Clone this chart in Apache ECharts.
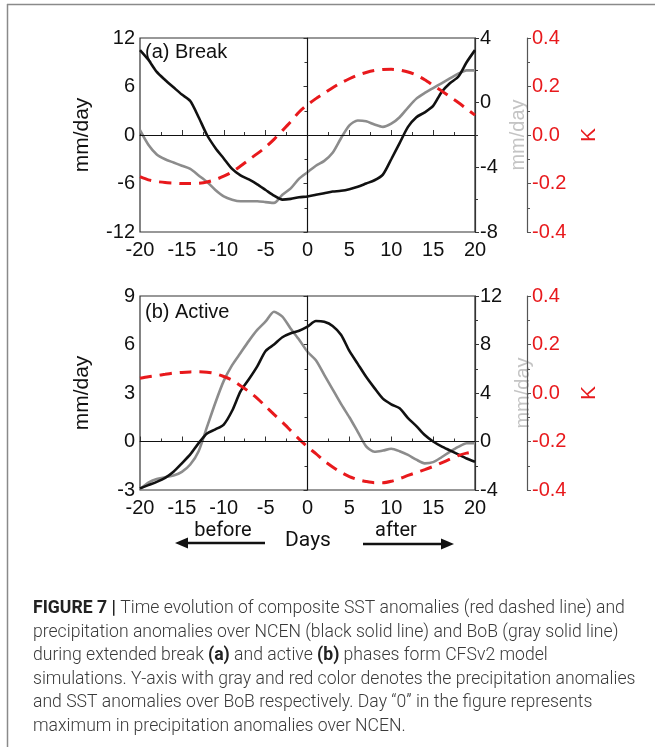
<!DOCTYPE html>
<html>
<head>
<meta charset="utf-8">
<script src="https://cdn.jsdelivr.net/npm/echarts@6/dist/echarts.min.js"></script>
<style>
  html, body { margin: 0; padding: 0; background: #fff; }
  #chart { width: 655px; height: 747px; }
</style>
</head>
<body>
<div id="chart"></div>
<script>
// Days relative to the NCEN precipitation maximum
const days = [-20,-19,-18,-17,-16,-15,-14,-13,-12,-11,-10,-9,-8,-7,-6,-5,-4,-3,-2,-1,0,1,2,3,4,5,6,7,8,9,10,11,12,13,14,15,16,17,18,19,20];
const xTicks = [-20, -15, -10, -5, 0, 5, 10, 15, 20];

// (a) Break phase
const breakNCEN = [10.5,9.3,7.8,6.8,5.9,5.0,4.2,2.2,0.0,-1.6,-2.9,-4.2,-5.0,-5.5,-6.1,-6.8,-7.5,-8.0,-7.9,-7.7,-7.6,-7.4,-7.2,-7.0,-6.9,-6.7,-6.4,-6.0,-5.6,-4.9,-3.0,-1.0,1.0,2.2,2.8,3.6,5.3,6.4,7.2,9.0,10.5];
const breakBoB = [-1.7,-2.6,-3.2,-3.5,-3.7,-3.9,-4.1,-4.5,-4.9,-5.4,-5.8,-6.0,-6.1,-6.1,-6.1,-6.15,-6.2,-5.7,-5.3,-4.7,-4.3,-3.9,-3.6,-3.1,-2.2,-1.4,-1.1,-1.15,-1.35,-1.5,-1.3,-0.9,-0.3,0.25,0.6,0.9,1.2,1.5,1.8,2.0,2.0];
const breakSST = [-0.172,-0.185,-0.192,-0.196,-0.198,-0.2,-0.2,-0.199,-0.194,-0.184,-0.17,-0.152,-0.128,-0.102,-0.077,-0.05,-0.018,0.018,0.055,0.095,0.125,0.15,0.172,0.195,0.215,0.232,0.247,0.258,0.266,0.27,0.271,0.268,0.26,0.247,0.228,0.205,0.182,0.158,0.134,0.108,0.082];

// (b) Active phase
const activeNCEN = [-2.9,-2.7,-2.5,-2.25,-1.87,-1.35,-0.8,-0.1,0.5,0.75,1.05,1.9,3.1,3.85,4.65,5.6,6.0,6.45,6.7,6.85,7.1,7.45,7.4,7.15,6.6,5.6,4.8,4.0,3.3,2.65,2.3,2.05,1.45,0.95,0.4,0.0,-0.3,-0.55,-0.8,-1.05,-1.25];
const activeBoB = [-3.95,-3.4,-3.1,-2.95,-2.8,-2.5,-1.9,-0.8,1.2,3.2,5.0,6.3,7.3,8.3,9.2,9.9,10.7,10.3,9.3,8.4,7.4,6.7,5.5,4.3,3.1,2.0,0.8,-0.4,-0.85,-0.75,-0.6,-0.8,-1.1,-1.5,-1.8,-1.7,-1.3,-0.85,-0.45,-0.15,-0.15];
const activeSST = [0.061,0.067,0.072,0.077,0.082,0.085,0.087,0.088,0.086,0.08,0.068,0.053,0.03,0.006,-0.022,-0.055,-0.088,-0.12,-0.155,-0.19,-0.222,-0.25,-0.28,-0.305,-0.327,-0.345,-0.357,-0.365,-0.37,-0.37,-0.364,-0.353,-0.34,-0.328,-0.316,-0.303,-0.288,-0.273,-0.258,-0.248,-0.242];

// Axis ranges
const breakLeft = { min: -12, max: 12, interval: 6 };
const breakGray = { min: -8, max: 4, interval: 4 };
const activeLeft = { min: -3, max: 9, interval: 3 };
const activeGray = { min: -4, max: 12, interval: 4 };
const sstRange = { min: -0.4, max: 0.4, interval: 0.2 };

const panelLabels = ['(a) Break', '(b) Active'];
const captionLines = [
  [{ t: 'FIGURE 7 | ', s: 'b' }, { t: 'Time evolution of composite SST anomalies (red dashed line) and', s: 'n' }],
  [{ t: 'precipitation anomalies over NCEN (black solid line) and BoB (gray solid line)', s: 'n' }],
  [{ t: 'during extended break ', s: 'n' }, { t: '(a)', s: 'b' }, { t: ' and active ', s: 'n' }, { t: '(b)', s: 'b' }, { t: ' phases form CFSv2 model', s: 'n' }],
  [{ t: 'simulations. Y-axis with gray and red color denotes the precipitation anomalies', s: 'n' }],
  [{ t: 'and SST anomalies over BoB respectively. Day \u201c0\u201d in the figure represents', s: 'n' }],
  [{ t: 'maximum in precipitation anomalies over NCEN.', s: 'n' }]
];

const RED = '#e8191c';
const GRAY = '#8c8c8c';
const AXIS = '#333';
const FONT = 'Arial, "Liberation Sans", sans-serif';
const TICK_SIZE = 20;

const pairs = (vals) => days.map((d, i) => [d, vals[i]]);

const grids = [
  { left: 140, right: 180, top: 38, height: 194 },
  { left: 140, right: 180, top: 296, height: 194 }
];

function xAxisFor(gi) {
  return {
    type: 'value', gridIndex: gi, min: -20, max: 20, interval: 5,
    axisLine: { lineStyle: { color: AXIS, width: 1.2 } },
    axisTick: { show: true, inside: true, length: 5, lineStyle: { color: AXIS } },
    minorTick: { show: true, splitNumber: 2, length: 3, lineStyle: { color: AXIS } },
    splitLine: { show: false },
    axisLabel: {
      color: '#111', fontFamily: FONT, fontSize: TICK_SIZE, margin: 8,
      customValues: xTicks
    }
  };
}

function leftAxis(gi, r) {
  return {
    type: 'value', gridIndex: gi, position: 'left', min: r.min, max: r.max, interval: r.interval,
    name: 'mm/day', nameLocation: 'middle', nameGap: 47, nameRotate: 90,
    nameTextStyle: { color: '#111', fontFamily: FONT, fontSize: 21 },
    axisLine: { show: true, lineStyle: { color: AXIS, width: 1.2 } },
    axisTick: { show: true, inside: false, length: 4, lineStyle: { color: AXIS } },
    minorTick: { show: true, splitNumber: 2, length: 3, lineStyle: { color: AXIS } },
    splitLine: { show: false },
    axisLabel: { color: '#111', fontFamily: FONT, fontSize: TICK_SIZE, margin: 5 }
  };
}

function grayAxis(gi, r) {
  return {
    type: 'value', gridIndex: gi, position: 'right', offset: 0, min: r.min, max: r.max, interval: r.interval,
    name: 'mm/day', nameLocation: 'middle', nameGap: 27, nameRotate: 90,
    nameTextStyle: { color: '#c4c4c4', fontFamily: FONT, fontSize: 20 },
    axisLine: { show: true, lineStyle: { color: AXIS, width: 1.2 } },
    axisTick: { show: true, inside: false, length: 4, lineStyle: { color: AXIS } },
    minorTick: { show: true, splitNumber: 2, length: 3, lineStyle: { color: AXIS } },
    splitLine: { show: false },
    axisLabel: { color: '#111', fontFamily: FONT, fontSize: TICK_SIZE, margin: 5 }
  };
}

function sstAxis(gi) {
  return {
    type: 'value', gridIndex: gi, position: 'right', offset: 52,
    min: sstRange.min, max: sstRange.max, interval: sstRange.interval,
    name: 'K', nameLocation: 'middle', nameGap: 52, nameRotate: 90,
    nameTextStyle: { color: RED, fontFamily: FONT, fontSize: 21 },
    axisLine: { show: true, lineStyle: { color: '#555', width: 1.2 } },
    axisTick: { show: true, inside: false, length: 4, lineStyle: { color: '#555' } },
    minorTick: { show: true, splitNumber: 2, length: 3, lineStyle: { color: '#555' } },
    splitLine: { show: false },
    axisLabel: {
      color: RED, fontFamily: FONT, fontSize: TICK_SIZE, margin: 5,
      formatter: (v) => v.toFixed(1)
    }
  };
}

function zeroLines() {
  return {
    silent: true, symbol: 'none', animation: false,
    label: { show: false },
    lineStyle: { color: '#111', width: 1, type: 'solid' },
    data: [{ xAxis: 0 }, { yAxis: 0 }]
  };
}

function lineSeries(name, xi, yi, vals, style, extra) {
  return Object.assign({
    name, type: 'line', xAxisIndex: xi, yAxisIndex: yi,
    data: pairs(vals), showSymbol: false, smooth: 0.25,
    lineStyle: style, animation: false
  }, extra || {});
}

const series = [
  lineSeries('NCEN break', 0, 0, breakNCEN, { color: '#111', width: 2.6 }, { markLine: zeroLines(), z: 3 }),
  lineSeries('BoB break', 0, 1, breakBoB, { color: GRAY, width: 2.6 }, { z: 2 }),
  lineSeries('SST break', 0, 2, breakSST, { color: RED, width: 3, type: [12, 8] }, { z: 4 }),
  lineSeries('NCEN active', 1, 3, activeNCEN, { color: '#111', width: 2.6 }, { markLine: zeroLines(), z: 3 }),
  lineSeries('BoB active', 1, 4, activeBoB, { color: GRAY, width: 2.6 }, { z: 2 }),
  lineSeries('SST active', 1, 5, activeSST, { color: RED, width: 3, type: [12, 8] }, { z: 4 })
];

// Caption, frame, panel tags and the before/after arrows
const graphics = [
  { type: 'line', shape: { x1: 7, y1: 4.5, x2: 655, y2: 4.5 }, style: { stroke: '#8a8a8a', lineWidth: 1.5 } },
  { type: 'line', shape: { x1: 7.5, y1: 4, x2: 7.5, y2: 747 }, style: { stroke: '#8a8a8a', lineWidth: 1.5 } },
  { type: 'text', left: 145, top: 42, z: 10, style: { text: panelLabels[0], fill: '#111', font: '20px ' + FONT } },
  { type: 'text', left: 145, top: 302, z: 10, style: { text: panelLabels[1], fill: '#111', font: '20px ' + FONT } },
  { type: 'text', x: 223, y: 531, style: { text: 'before', fill: '#111', font: '20px Roboto, sans-serif', textAlign: 'center', textVerticalAlign: 'middle' } },
  { type: 'text', x: 308, y: 541, style: { text: 'Days', fill: '#111', font: '21px Roboto, sans-serif', textAlign: 'center', textVerticalAlign: 'middle' } },
  { type: 'text', x: 396, y: 531, style: { text: 'after', fill: '#111', font: '20px Roboto, sans-serif', textAlign: 'center', textVerticalAlign: 'middle' } },
  { type: 'line', shape: { x1: 265, y1: 543, x2: 184, y2: 543 }, style: { stroke: '#111', lineWidth: 2.5 } },
  { type: 'polygon', shape: { points: [[175, 543], [188, 537.5], [188, 548.5]] }, style: { fill: '#111' } },
  { type: 'line', shape: { x1: 363, y1: 544, x2: 444, y2: 544 }, style: { stroke: '#111', lineWidth: 2.5 } },
  { type: 'polygon', shape: { points: [[454, 544], [441, 538.5], [441, 549.5]] }, style: { fill: '#111' } }
];

const capTop = 609;
const capStep = 23.5;
captionLines.forEach((parts, i) => {
  graphics.push({
    type: 'text', x: 33, y: capTop + i * capStep,
    style: {
      text: parts.map(p => '{' + p.s + '|' + p.t + '}').join(''),
      textVerticalAlign: 'middle',
      rich: {
        n: { fill: '#3a3a3a', font: '300 17.6px Roboto, sans-serif' },
        b: { fill: '#222', font: 'bold 17.6px Roboto, sans-serif' }
      }
    }
  });
});

const chart = echarts.init(document.getElementById('chart'), null, { renderer: 'canvas' });
chart.setOption({
  backgroundColor: '#fff',
  animation: false,
  grid: grids.map(g => Object.assign({ show: true, borderColor: AXIS, borderWidth: 1.2, backgroundColor: 'transparent' }, g)),
  xAxis: [xAxisFor(0), xAxisFor(1)],
  yAxis: [
    leftAxis(0, breakLeft), grayAxis(0, breakGray), sstAxis(0),
    leftAxis(1, activeLeft), grayAxis(1, activeGray), sstAxis(1)
  ],
  series,
  graphic: graphics
});
</script>
</body>
</html>
